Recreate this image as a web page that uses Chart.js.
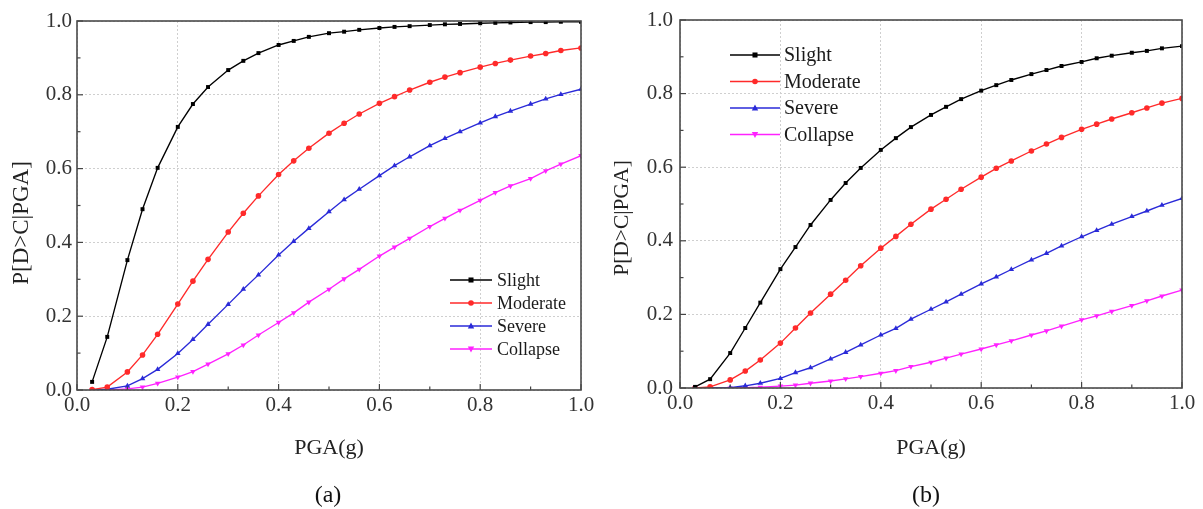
<!DOCTYPE html>
<html><head><meta charset="utf-8">
<script src="https://cdn.jsdelivr.net/npm/chart.js@4/dist/chart.umd.min.js"></script>
<style>
html,body{margin:0;padding:0;background:#fff;}
#wrap{position:relative;width:1203px;height:509px;overflow:hidden;background:#fff;}
.c{position:absolute;top:0;}
.cap{position:absolute;font-family:"Liberation Serif",serif;font-size:24px;color:#111;top:480px;width:60px;text-align:center;line-height:28px;}
</style></head><body>
<div id="wrap">
<div class="c" style="left:0px;"><canvas id="ca" width="600" height="509"></canvas></div>
<div class="c" style="left:600px;"><canvas id="cb" width="603" height="509"></canvas></div>
<div class="cap" style="left:298px">(a)</div>
<div class="cap" style="left:896px">(b)</div>
</div>
<script>
// ---------- data ----------
const pga = [0.03,0.06,0.1,0.13,0.16,0.2,0.23,0.26,0.3,0.33,0.36,0.4,0.43,0.46,0.5,0.53,0.56,0.6,0.63,0.66,0.7,0.73,0.76,0.8,0.83,0.86,0.9,0.93,0.96,1.0];
const seriesNames = ['Slight','Moderate','Severe','Collapse'];
const xTicks = [0,0.2,0.4,0.6,0.8,1.0];
const yTicks = [0,0.2,0.4,0.6,0.8,1.0];
const xTitle = 'PGA(g)';
const yTitle = 'P[D>C|PGA]';

// (a)
const aSlight   = [0.022,0.144,0.352,0.490,0.602,0.713,0.775,0.821,0.867,0.892,0.913,0.935,0.946,0.957,0.967,0.971,0.976,0.981,0.984,0.986,0.989,0.991,0.992,0.994,0.995,0.996,0.997,0.997,0.998,0.998];
const aModerate = [0.001,0.008,0.049,0.095,0.151,0.233,0.295,0.354,0.428,0.479,0.526,0.584,0.621,0.655,0.696,0.723,0.748,0.777,0.795,0.813,0.834,0.848,0.860,0.875,0.885,0.894,0.905,0.912,0.920,0.927];
const aSevere   = [0.000,0.002,0.011,0.031,0.056,0.099,0.137,0.178,0.232,0.273,0.312,0.366,0.403,0.438,0.483,0.516,0.544,0.581,0.608,0.632,0.662,0.682,0.700,0.724,0.741,0.756,0.775,0.789,0.801,0.815];
const aCollapse = [0.000,0.000,0.003,0.008,0.018,0.035,0.050,0.070,0.098,0.122,0.149,0.183,0.209,0.238,0.273,0.301,0.327,0.363,0.387,0.411,0.443,0.465,0.487,0.514,0.535,0.553,0.573,0.594,0.612,0.635];

// (b)
const bSlight   = [0.003,0.024,0.095,0.163,0.232,0.323,0.383,0.443,0.511,0.557,0.598,0.647,0.679,0.709,0.742,0.764,0.785,0.808,0.823,0.837,0.853,0.864,0.875,0.886,0.896,0.903,0.911,0.916,0.923,0.929];
const bModerate = [0.000,0.003,0.022,0.046,0.076,0.122,0.163,0.204,0.255,0.293,0.332,0.380,0.412,0.445,0.486,0.513,0.540,0.573,0.597,0.617,0.644,0.663,0.681,0.703,0.717,0.731,0.748,0.761,0.774,0.787];
const bSevere   = [0.000,0.000,0.001,0.006,0.013,0.026,0.042,0.055,0.079,0.097,0.117,0.144,0.162,0.187,0.214,0.234,0.255,0.283,0.302,0.322,0.348,0.366,0.386,0.411,0.428,0.445,0.466,0.481,0.497,0.515];
const bCollapse = [0.000,0.000,0.000,0.001,0.002,0.005,0.008,0.013,0.019,0.025,0.031,0.040,0.047,0.058,0.070,0.081,0.092,0.106,0.117,0.128,0.144,0.155,0.168,0.185,0.196,0.208,0.224,0.237,0.250,0.266];

// ---------- styling ----------
const FONT = '"Liberation Serif", "Times New Roman", serif';
const styles = [
  {color:'#000000', point:'rect',     radius:2.8, rot:0},
  {color:'#ff2a2a', point:'circle',   radius:2.8, rot:0},
  {color:'#2a2ad8', point:'triangle', radius:3.2, rot:0},
  {color:'#ff22ff', point:'triangle', radius:3.2, rot:180}
];

function drawMarker(ctx, st, x, y){
  const r = st.radius;
  ctx.save();
  ctx.fillStyle = st.color;
  ctx.translate(x,y); ctx.rotate(st.rot*Math.PI/180);
  ctx.beginPath();
  if (st.point==='rect'){ ctx.rect(-r*0.9,-r*0.9,r*1.8,r*1.8); }
  else if (st.point==='circle'){ ctx.arc(0,0,r,0,Math.PI*2); }
  else { ctx.moveTo(0,-r*1.1); ctx.lineTo(r,r*0.75); ctx.lineTo(-r,r*0.75); ctx.closePath(); }
  ctx.fill();
  ctx.restore();
}

const decorPlugin = {
  id:'decor',
  afterDraw(chart, args, opts){
    const ctx = chart.ctx, a = chart.chartArea;
    const xs = chart.scales.x, ys = chart.scales.y;
    ctx.save();
    // inward ticks
    ctx.strokeStyle = '#444'; ctx.lineWidth = 1.2;
    for (let i=0;i<=10;i++){
      const v = i/10, len = (i%2===0)?6:3.5;
      const px = xs.getPixelForValue(v);
      ctx.beginPath(); ctx.moveTo(px,a.bottom); ctx.lineTo(px,a.bottom-len); ctx.stroke();
      const py = ys.getPixelForValue(v);
      ctx.beginPath(); ctx.moveTo(a.left,py); ctx.lineTo(a.left+len,py); ctx.stroke();
    }
    // frame
    ctx.strokeStyle = '#4a4a4a'; ctx.lineWidth = 1.6;
    ctx.strokeRect(a.left, a.top, a.right-a.left, a.bottom-a.top);
    // y title (rotated)
    ctx.save();
    ctx.translate(opts.yt.x, opts.yt.y); ctx.rotate(-Math.PI/2);
    ctx.font = opts.yt.size + 'px ' + FONT;
    ctx.fillStyle = '#222'; ctx.textAlign = 'center'; ctx.textBaseline = 'middle';
    ctx.fillText(yTitle, 0, 0);
    ctx.restore();
    // legend
    const L = opts.legend;
    ctx.font = L.fontSize + 'px ' + FONT;
    ctx.textBaseline = 'middle'; ctx.textAlign = 'left';
    chart.data.datasets.forEach((ds,i)=>{
      const st = styles[i];
      const y = L.y0 + i*L.dy;
      ctx.strokeStyle = st.color; ctx.lineWidth = 1.3;
      ctx.beginPath(); ctx.moveTo(L.x, y); ctx.lineTo(L.x+L.len, y); ctx.stroke();
      drawMarker(ctx, st, L.x+L.len/2, y);
      ctx.fillStyle = '#1a1a1a';
      ctx.fillText(ds.label, L.x+L.len+L.gap, y+1);
    });
    ctx.restore();
  }
};

function makeChart(id, values, geo){
  const datasets = values.map((arr,i)=>({
    label: seriesNames[i],
    data: pga.map((x,k)=>({x:x, y:arr[k]})),
    borderColor: styles[i].color,
    backgroundColor: styles[i].color,
    borderWidth: 1.35,
    pointStyle: styles[i].point,
    pointRadius: styles[i].radius,
    pointRotation: styles[i].rot,
    pointBorderWidth: 0,
    tension: 0,
    fill: false
  }));
  return new Chart(document.getElementById(id), {
    type:'line',
    data:{datasets},
    plugins:[decorPlugin],
    options:{
      responsive:false, animation:false, devicePixelRatio:1,
      layout:{padding:{left:0, top:geo.top, right:geo.W-geo.right, bottom:0}},
      plugins:{legend:{display:false}, tooltip:{enabled:false}, decor:{legend:geo.legend, yt:geo.yt}},
      scales:{
        x:{type:'linear', min:0, max:1,
          afterBuildTicks: s=>{ s.ticks = xTicks.map(v=>({value:v})); },
          ticks:{padding:3, color:'#333', font:{family:FONT, size:geo.tickSize}, maxRotation:0, autoSkip:false,
                 callback:v=>Number(v).toFixed(1)},
          grid:{color:'#cfcfcf', lineWidth:1, drawTicks:false},
          border:{display:false, dash:[2,2]},
          title:{display:true, text:xTitle, color:'#222', font:{family:FONT, size:geo.titleSize}, padding:{top:0, bottom:geo.xTitlePad}},
          afterFit: s=>{ s.height = geo.H - geo.bottom; }
        },
        y:{type:'linear', min:0, max:1,
          afterBuildTicks: s=>{ s.ticks = yTicks.map(v=>({value:v})); },
          ticks:{padding:geo.yTickPad, color:'#333', font:{family:FONT, size:geo.tickSize},
                 callback:v=>Number(v).toFixed(1)},
          grid:{color:'#cfcfcf', lineWidth:1, drawTicks:false},
          border:{display:false, dash:[2,2]},
          title:{display:false},
          afterFit: s=>{ s.width = geo.left; }
        }
      }
    }
  });
}

makeChart('ca', [aSlight,aModerate,aSevere,aCollapse], {
  W:600, H:509, left:77, top:21, right:581, bottom:390,
  tickSize:21, titleSize:22, xTitlePad:48, yTickPad:5,
  yt:{x:22, y:223, size:23},
  legend:{x:450, y0:280, dy:23, len:42, gap:5, fontSize:18}
});
makeChart('cb', [bSlight,bModerate,bSevere,bCollapse], {
  W:603, H:509, left:80, top:20, right:582, bottom:388,
  tickSize:21, titleSize:22, xTitlePad:48, yTickPad:7,
  yt:{x:22, y:218, size:21.5},
  legend:{x:130, y0:55, dy:26.5, len:50, gap:4, fontSize:20}
});
</script>
</body></html>
